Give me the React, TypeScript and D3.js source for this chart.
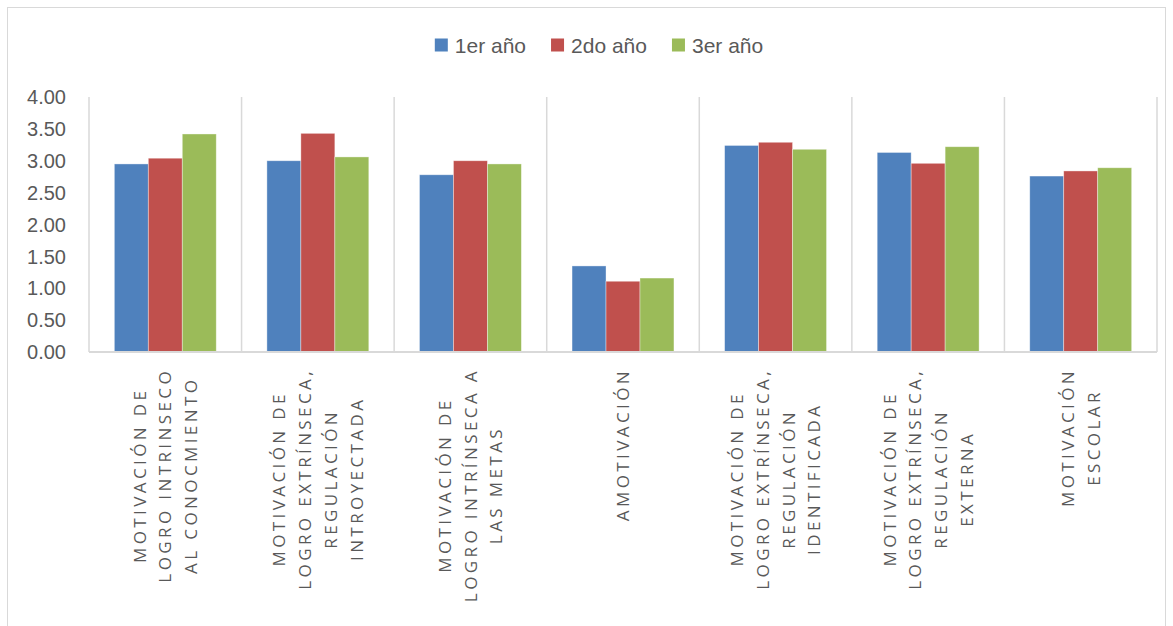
import React, { useEffect, useRef } from "react";
import * as d3 from "d3";

const categoryLabels: string[][] = [
  ["MOTIVACIÓN DE", "LOGRO INTRINSECO", "AL CONOCMIENTO"],
  ["MOTIVACIÓN DE", "LOGRO EXTRÍNSECA,", "REGULACIÓN", "INTROYECTADA"],
  ["MOTIVACIÓN DE", "LOGRO INTRÍNSECA A", "LAS METAS"],
  ["AMOTIVACIÓN"],
  ["MOTIVACIÓN DE", "LOGRO EXTRÍNSECA,", "REGULACIÓN", "IDENTIFICADA"],
  ["MOTIVACIÓN DE", "LOGRO EXTRÍNSECA,", "REGULACIÓN", "EXTERNA"],
  ["MOTIVACIÓN", "ESCOLAR"],
];
const seriesNames = ["1er año", "2do año", "3er año"];
const year1 = [2.95, 3.0, 2.78, 1.35, 3.24, 3.13, 2.76];
const year2 = [3.04, 3.43, 3.0, 1.11, 3.29, 2.96, 2.84];
const year3 = [3.42, 3.06, 2.95, 1.16, 3.18, 3.22, 2.89];
const yTicks = [0, 0.5, 1, 1.5, 2, 2.5, 3, 3.5, 4];
const colors = ["#4F81BD", "#C0504D", "#9BBB59"];

const W = 1173;
const H = 626;

export default function App() {
  const ref = useRef<SVGSVGElement | null>(null);

  useEffect(() => {
    const svg = d3.select(ref.current);
    svg.selectAll("*").remove();

    const left = 89, right = 1157, top = 97, bottom = 352;
    const series = [year1, year2, year3];
    const idx = categoryLabels.map((_, i) => i);

    // outer border
    svg.append("rect")
      .attr("x", 7.5).attr("y", 7.5)
      .attr("width", 1158).attr("height", 640)
      .attr("fill", "#fff").attr("stroke", "#d9d9d9").attr("stroke-width", 1);

    const x0 = d3.scaleBand<number>().domain(idx).range([left, right]).padding(0);
    const bw = x0.bandwidth();
    const pad = bw * 0.166;
    const x1 = d3.scaleBand<number>().domain([0, 1, 2]).range([pad, bw - pad]).padding(0);
    const y = d3.scaleLinear().domain([0, 4]).range([bottom, top]);

    // vertical gridlines at category boundaries
    const bounds = idx.map((i) => x0(i)!).concat([right]);
    svg.append("g").selectAll("line").data(bounds).join("line")
      .attr("x1", (d) => d).attr("x2", (d) => d)
      .attr("y1", top).attr("y2", bottom)
      .attr("stroke", "#d9d9d9").attr("stroke-width", 1.5);

    // bars
    const g = svg.append("g");
    series.forEach((vals, s) => {
      g.append("g").selectAll("rect").data(vals).join("rect")
        .attr("x", (_, i) => x0(i)! + x1(s)!)
        .attr("width", x1.bandwidth())
        .attr("y", (d) => y(d))
        .attr("height", (d) => bottom - y(d))
        .attr("fill", colors[s])
        .attr("stroke", "#ffffff").attr("stroke-opacity", 0.5).attr("stroke-width", 0.75);
    });

    // baseline axis
    svg.append("line")
      .attr("x1", left).attr("x2", right)
      .attr("y1", bottom).attr("y2", bottom)
      .attr("stroke", "#d9d9d9").attr("stroke-width", 2);

    // y tick labels
    svg.append("g").selectAll("text").data(yTicks).join("text")
      .attr("x", 66).attr("y", (d) => y(d))
      .attr("dy", "0.36em")
      .attr("text-anchor", "end")
      .attr("font-family", "'Liberation Sans', Arial, sans-serif")
      .attr("font-size", 20)
      .attr("fill", "#595959")
      .text((d) => d3.format(".2f")(d));

    // category labels (rotated, multi-line)
    const lineGap = 25.7;
    categoryLabels.forEach((lines, i) => {
      const cx = x0(i)! + bw / 2;
      const grp = svg.append("g");
      const texts = grp.selectAll("text").data(lines).join("text")
        .attr("text-anchor", "middle")
        .attr("font-family", "'Open Sans', sans-serif")
        .attr("font-size", 17)
        .attr("letter-spacing", 3.4)
        .attr("fill", "#595959")
        .text((d) => d);
      let maxLen = 0;
      texts.each(function () {
        const l = (this as SVGTextElement).getComputedTextLength();
        if (l > maxLen) maxLen = l;
      });
      const cy = 368 + maxLen / 2;
      texts.attr("transform", (_, j) => {
        const lx = cx + (j - (lines.length - 1) / 2) * lineGap;
        return `translate(${lx},${cy}) rotate(-90)`;
      }).attr("dy", "0.36em");
    });

    // legend
    const legend = svg.append("g");
    const items = legend.selectAll("g").data(seriesNames).join("g");
    items.append("rect")
      .attr("width", 13).attr("height", 13)
      .attr("y", -6.5)
      .attr("fill", (_, i) => colors[i]);
    const ltexts = items.append("text")
      .attr("x", 20).attr("dy", "0.36em")
      .attr("font-family", "'Liberation Sans', Arial, sans-serif")
      .attr("font-size", 21)
      .attr("fill", "#595959")
      .text((d) => d);
    const widths: number[] = [];
    ltexts.each(function () { widths.push((this as SVGTextElement).getComputedTextLength()); });
    const gap = 25;
    const itemW = widths.map((w) => 20 + w);
    const total = d3.sum(itemW) + gap * (itemW.length - 1);
    let cx = 599 - total / 2;
    const offs: number[] = [];
    itemW.forEach((w) => { offs.push(cx); cx += w + gap; });
    items.attr("transform", (_, i) => `translate(${offs[i]},45)`);
  }, []);

  return (
    <svg
      ref={ref}
      width={W}
      height={H}
      style={{ position: "absolute", left: 0, top: 0, background: "#fff" }}
    />
  );
}
